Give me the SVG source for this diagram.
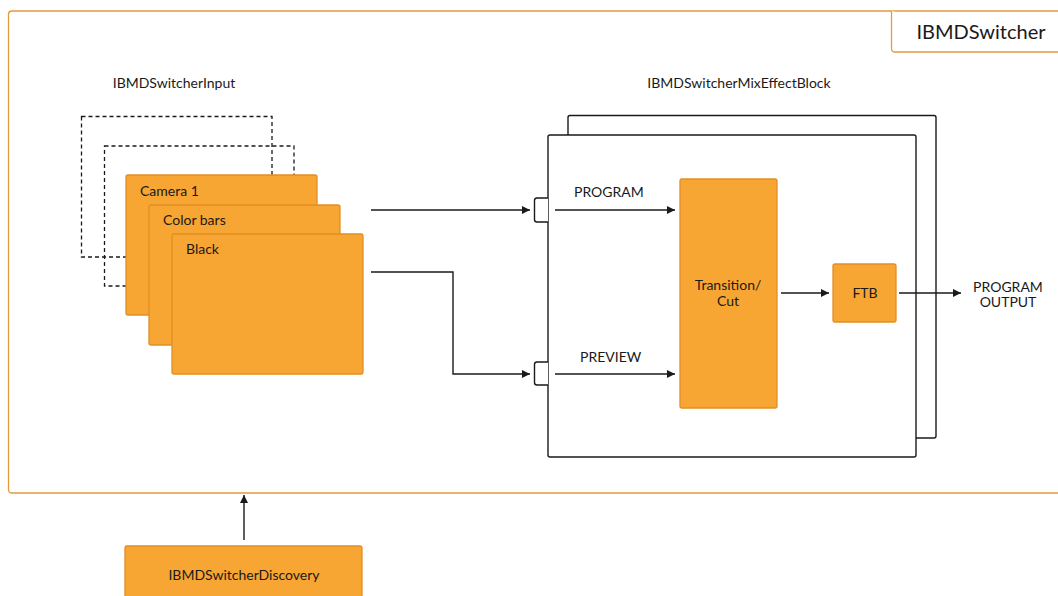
<svg xmlns="http://www.w3.org/2000/svg" width="1058" height="596" viewBox="0 0 1058 596">
<defs>
<style>
text{font-family:Lato,"Open Sans","Liberation Sans",sans-serif;fill:#1a1a1a}
.t13{font-size:14px}
.node{fill:#F7A533;stroke:#E28F23;stroke-width:1.3}
.frame{fill:#fff;stroke:#1a1a1a;stroke-width:1.4}
.dash{fill:none;stroke:#1a1a1a;stroke-width:1.3;stroke-dasharray:4 3}
.wire{fill:none;stroke:#1a1a1a;stroke-width:1.4}
</style>
<marker id="ah" viewBox="0 0 10 10" refX="10" refY="5" markerWidth="8" markerHeight="8" markerUnits="userSpaceOnUse" orient="auto">
<path d="M0,0 L10,5 L0,10 z" fill="#1a1a1a"/>
</marker>
</defs>
<rect width="1058" height="596" fill="#fff"/>
<g id="switcher">
<path d="M1070,11 H12 Q8.5,11 8.5,14.5 V489.5 Q8.5,493 12,493 H1070" fill="none" stroke="#E39A3B" stroke-width="1.3"/>
<path d="M891.5,11 V48.5 Q891.5,52 895,52 H1070" fill="#fff" stroke="#E39A3B" stroke-width="1.3"/>
<text x="981" y="39" font-size="20" text-anchor="middle">IBMDSwitcher</text>
</g>
<g id="inputs">
<text x="174" y="88" class="t13" text-anchor="middle">IBMDSwitcherInput</text>
<rect class="dash" x="81.5" y="116.5" width="190.5" height="140.5"/>
<rect class="dash" x="104.5" y="146" width="189.5" height="140"/>
</g>
<g id="camera1">
<rect class="node" x="126" y="175" width="191" height="140" rx="2"/>
<text x="140" y="196" class="t13">Camera 1</text>
</g>
<g id="colorbars">
<rect class="node" x="149" y="205" width="191" height="140" rx="2"/>
<text x="163" y="225" class="t13">Color bars</text>
</g>
<g id="black">
<rect class="node" x="172" y="234" width="191" height="140" rx="2"/>
<text x="186" y="254" class="t13">Black</text>
</g>
<g id="mixeffect">
<text x="739" y="88" class="t13" text-anchor="middle">IBMDSwitcherMixEffectBlock</text>
<path class="frame" d="M568,135 V117.5 Q568,115.5 570,115.5 H934 Q936,115.5 936,117.5 V436 Q936,438 934,438 H916"/>
<rect class="frame" x="548" y="135" width="368" height="322" rx="2"/>
<path class="frame" d="M548,198 H537 Q534.5,198 534.5,200.5 V219.5 Q534.5,222 537,222 H548"/>
<path class="frame" d="M548,362 H537 Q534.5,362 534.5,364.5 V382.5 Q534.5,385 537,385 H548"/>
<text x="574" y="197" class="t13">PROGRAM</text>
<text x="580" y="362" class="t13">PREVIEW</text>
</g>
<g id="transition">
<rect class="node" x="680" y="179" width="97" height="229" rx="2"/>
<text x="728" y="290" class="t13" text-anchor="middle">Transition/</text>
<text x="728" y="306" class="t13" text-anchor="middle">Cut</text>
</g>
<g id="ftb">
<rect class="node" x="833" y="264" width="63" height="58" rx="2"/>
<text x="865" y="298" class="t13" text-anchor="middle">FTB</text>
</g>
<g id="output">
<text x="1008" y="292" class="t13" text-anchor="middle">PROGRAM</text>
<text x="1008" y="307" class="t13" text-anchor="middle">OUTPUT</text>
</g>
<g id="discovery">
<rect class="node" x="125" y="546" width="237" height="60" rx="2"/>
<text x="244" y="580" class="t13" text-anchor="middle">IBMDSwitcherDiscovery</text>
</g>
<g id="connectors">
<path class="wire" d="M371,210 H530" marker-end="url(#ah)"/>
<path class="wire" d="M371,272 H453 V374 H530" marker-end="url(#ah)"/>
<path class="wire" d="M555,210 H675" marker-end="url(#ah)"/>
<path class="wire" d="M555,374 H675" marker-end="url(#ah)"/>
<path class="wire" d="M781,293 H829" marker-end="url(#ah)"/>
<path class="wire" d="M899,293 H961" marker-end="url(#ah)"/>
<path class="wire" d="M244,540 V495" marker-end="url(#ah)"/>
</g>
</svg>
